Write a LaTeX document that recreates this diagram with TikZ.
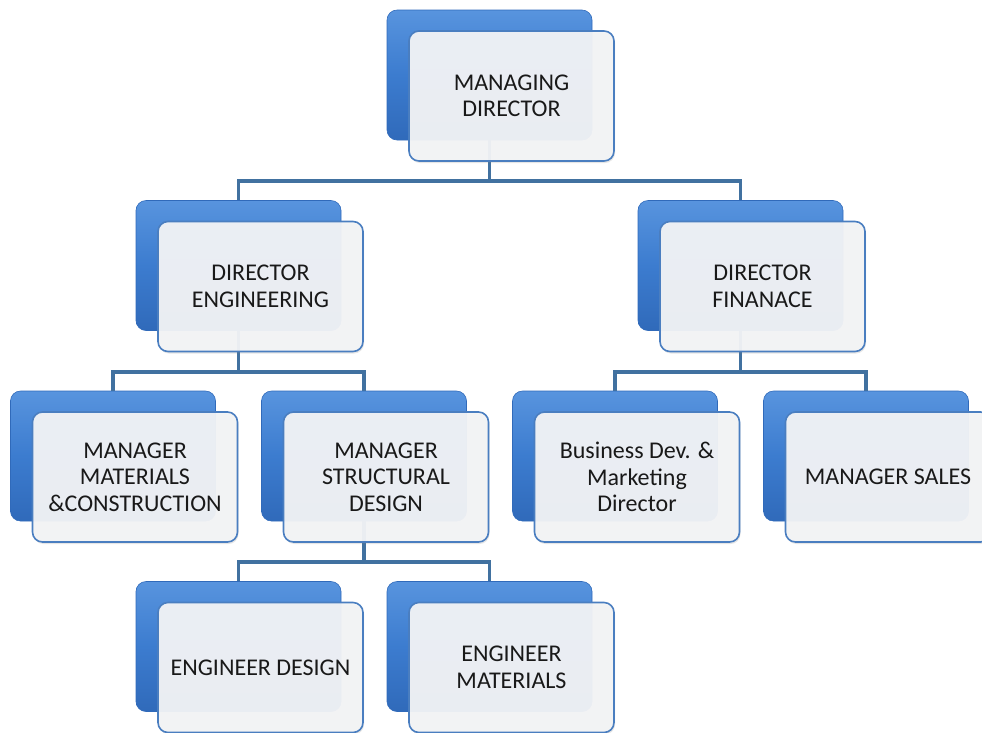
\documentclass[tikz,border=0pt]{standalone}
\usepackage{fontspec}
\setmainfont{Carlito}
\usetikzlibrary{shadows}
\definecolor{boxblue}{RGB}{60,124,207}
\definecolor{boxtop}{RGB}{88,148,222}
\definecolor{boxbot}{RGB}{48,106,186}
\definecolor{rimblue}{RGB}{74,126,192}
\definecolor{paneface}{RGB}{243,244,246}
\definecolor{linkblue}{RGB}{65,113,160}
\begin{document}
\begin{tikzpicture}[x=1pt,y=-1pt,
  back/.style={rounded corners=10pt, minimum width=205pt, minimum height=130pt,
    top color=boxtop, bottom color=boxbot, middle color=boxblue, draw=boxbot, line width=0.6pt},
  front/.style={rounded corners=10pt, minimum width=205pt, minimum height=130pt,
    fill=paneface, fill opacity=0.95, text opacity=1, draw=rimblue, line width=1.6pt,
    align=center, font=\fontsize{24}{26.5}\selectfont, text=black!90,
    drop shadow={opacity=0.2, shadow xshift=1pt, shadow yshift=-2pt}},
  link/.style={linkblue, line width=3.8pt}]
\useasboundingbox (0,0) rectangle (982,732);

\node[back] (md) at (489.5,75) {};
\node[back] (de) at (238.5,265.5) {};
\node[back] (df) at (740.5,265.5) {};
\node[back] (mmc) at (113,456) {};
\node[back] (msd) at (364,456) {};
\node[back] (bdm) at (615,456) {};
\node[back] (ms) at (866,456) {};
\node[back] (ed) at (238.5,646.5) {};
\node[back] (em) at (489.5,646.5) {};

\draw[link] (md.south) -- ++(0,41) -| (de.north);
\draw[link] (md.south) -- ++(0,41) -| (df.north);
\draw[link] (de.south) -- ++(0,41) -| (mmc.north);
\draw[link] (de.south) -- ++(0,41) -| (msd.north);
\draw[link] (df.south) -- ++(0,41) -| (bdm.north);
\draw[link] (df.south) -- ++(0,41) -| (ms.north);
\draw[link] (msd.south) -- ++(0,41) -| (ed.north);
\draw[link] (msd.south) -- ++(0,41) -| (em.north);

\node[front] (mdt) at (511.5,96) {MANAGING\\DIRECTOR};
\node[front] (det) at (260.5,286.5) {DIRECTOR\\ENGINEERING};
\node[front] (dft) at (762.5,286.5) {DIRECTOR\\FINANACE};
\node[front] (mmct) at (135,477) {MANAGER\\MATERIALS\\\&CONSTRUCTION};
\node[front] (msdt) at (386,477) {MANAGER\\STRUCTURAL\\DESIGN};
\node[front] (bdmt) at (637,477) {Business Dev. \&\\Marketing\\Director};
\node[front] (mst) at (888,477) {MANAGER SALES};
\node[front] (edt) at (260.5,667.5) {ENGINEER DESIGN};
\node[front] (emt) at (511.5,667.5) {ENGINEER\\MATERIALS};
\end{tikzpicture}
\end{document}
